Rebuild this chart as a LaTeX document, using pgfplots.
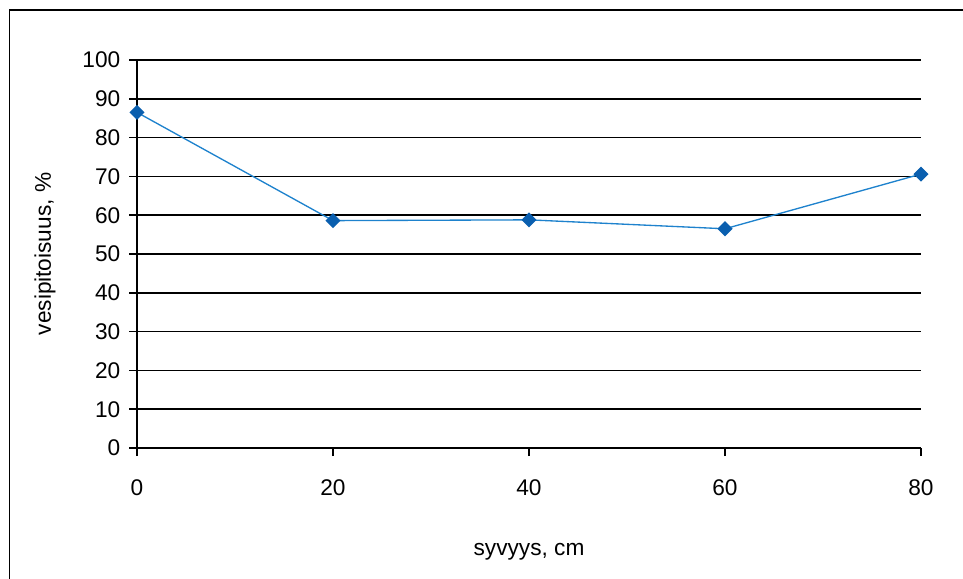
\documentclass[border=0pt]{standalone}
\usepackage{pgfplots}
\pgfplotsset{compat=1.18}
\usepackage{fontspec}
\setmainfont{Liberation Sans}
\definecolor{serie}{RGB}{30,130,205}
\definecolor{mk}{RGB}{10,95,175}
\begin{document}
\begin{tikzpicture}[x=1pt,y=1pt]
\useasboundingbox (0,0) rectangle (722.25,433.5);
\draw[line width=1pt] (7,-10) rectangle (740,426);
\begin{axis}[
  at={(102.75pt,97.5pt)}, anchor=south west,
  scale only axis, width=588pt, height=291pt,
  xmin=0, xmax=80, ymin=0, ymax=100,
  xtick={0,20,40,60,80}, ytick={0,10,...,100},
  axis x line*=bottom, axis y line*=left,
  ymajorgrids, grid style={black, line width=1.1pt},
  axis line style={black, line width=1.1pt},
  tick align=outside, major tick length=6pt,
  tick style={black, line width=1.1pt},
  clip=false,
  /pgf/number format/assume math mode=true,
  ticklabel style={font=\fontsize{17}{20}\selectfont},
  yticklabel style={anchor=east, xshift=-3pt},
  xticklabel style={anchor=north, yshift=-14pt},
  label style={font=\fontsize{17}{20}\selectfont},
  xlabel={syvyys, cm}, ylabel={vesipitoisuus, \%},
  xlabel style={at={([yshift=-78pt]axis description cs:0.5,0)}, anchor=center},
  ylabel style={at={([xshift=-69pt]axis description cs:0,0.5)}, anchor=center},
]
\addplot[color=serie, line width=1pt, mark=square*, mark size=3.5pt,
  mark options={rotate=45, fill=mk, draw=mk}]
  coordinates {(0,86.5)(20,58.6)(40,58.8)(60,56.5)(80,70.6)};
\end{axis}
\end{tikzpicture}
\end{document}
